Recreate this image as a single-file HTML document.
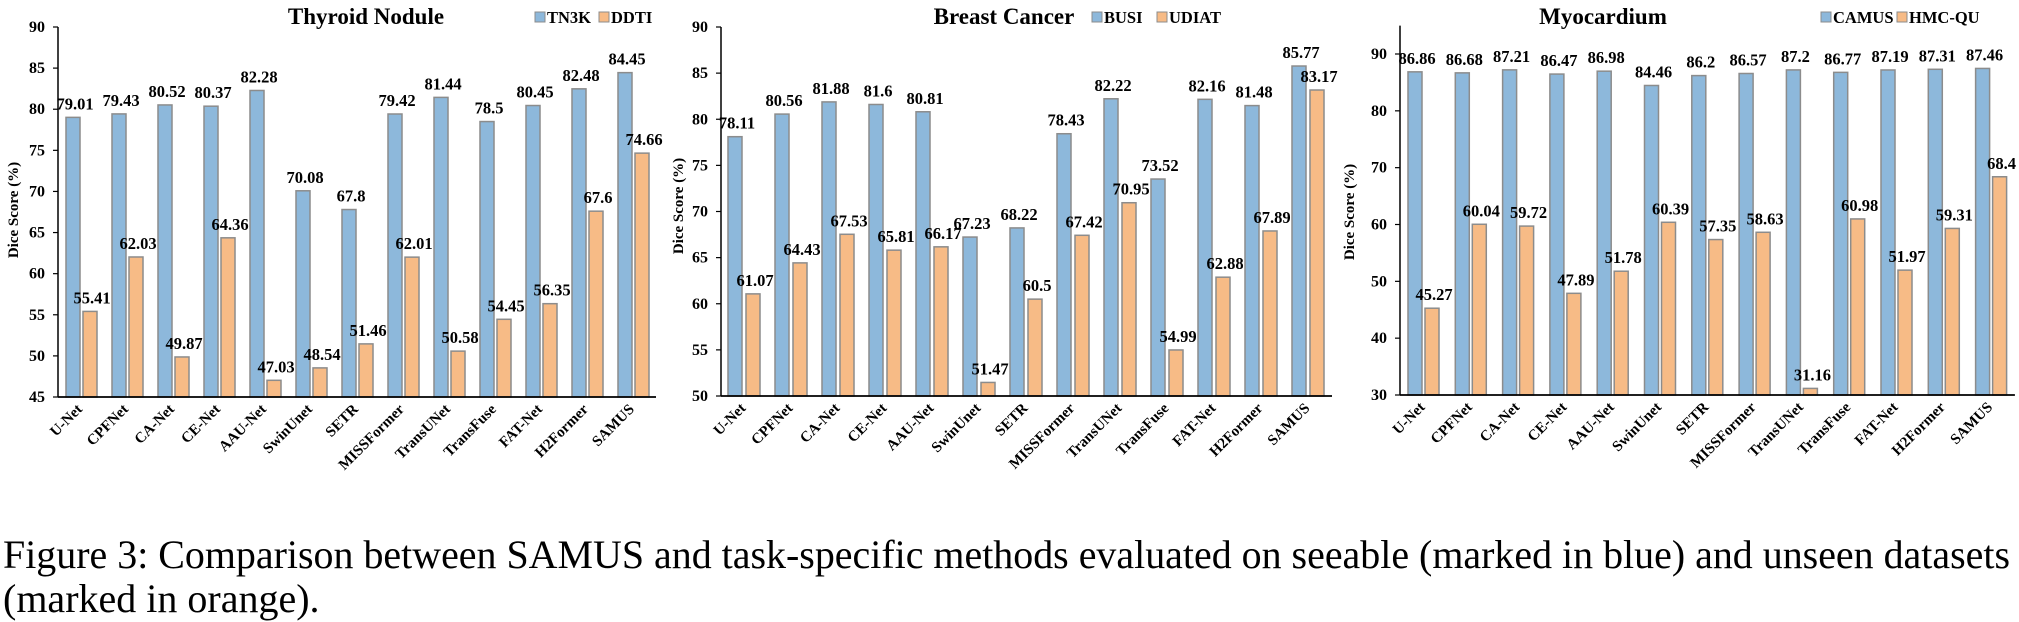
<!DOCTYPE html>
<html><head><meta charset="utf-8"><style>
html,body{margin:0;padding:0;background:#fff;}
svg{display:block;}
text{font-family:"Liberation Serif","Times New Roman",serif;}
</style></head><body>
<svg id="fig" width="2019" height="622" viewBox="0 0 2019 622" xmlns="http://www.w3.org/2000/svg">
<text x="3" y="568" font-size="40" textLength="2007" lengthAdjust="spacingAndGlyphs">Figure 3: Comparison between SAMUS and task-specific methods evaluated on seeable (marked in blue) and unseen datasets</text>
<text x="3" y="612" font-size="40">(marked in orange).</text>
</svg>
<script>
const categories = ["U-Net","CPFNet","CA-Net","CE-Net","AAU-Net","SwinUnet","SETR","MISSFormer","TransUNet","TransFuse","FAT-Net","H2Former","SAMUS"];
const thyroidSeen = [79.01,79.43,80.52,80.37,82.28,70.08,67.8,79.42,81.44,78.5,80.45,82.48,84.45];
const thyroidUnseen = [55.41,62.03,49.87,64.36,47.03,48.54,51.46,62.01,50.58,54.45,56.35,67.6,74.66];
const breastSeen = [78.11,80.56,81.88,81.6,80.81,67.23,68.22,78.43,82.22,73.52,82.16,81.48,85.77];
const breastUnseen = [61.07,64.43,67.53,65.81,66.17,51.47,60.5,67.42,70.95,54.99,62.88,67.89,83.17];
const myoSeen = [86.86,86.68,87.21,86.47,86.98,84.46,86.2,86.57,87.2,86.77,87.19,87.31,87.46];
const myoUnseen = [45.27,60.04,59.72,47.89,51.78,60.39,57.35,58.63,31.16,60.98,51.97,59.31,68.4];
const thyroidTicks = [45,50,55,60,65,70,75,80,85,90];
const breastTicks = [50,55,60,65,70,75,80,85,90];
const myoTicks = [30,40,50,60,70,80,90];
const legendThyroid = ["TN3K","DDTI"];
const legendBreast = ["BUSI","UDIAT"];
const legendMyo = ["CAMUS","HMC-QU"];

const NS = "http://www.w3.org/2000/svg";
const svg = document.getElementById("fig");
function mk(tag, attrs, parent){
  const e = document.createElementNS(NS, tag);
  for (const k in attrs) e.setAttribute(k, attrs[k]);
  (parent||svg).appendChild(e);
  return e;
}
const BLUE="#8db8db", ORANGE="#f7bb86", EDGE="#8c8c8c";

function drawChart(cfg){
  const g = mk("g", {});
  
  
  const y = v => cfg.yBot - (v - cfg.min) * (cfg.yBot - cfg.yTopPx) / (cfg.topVal - cfg.min);
  const axisTop = y(cfg.max);
  const xEnd = cfg.x0 + cfg.step * categories.length;
  const t = mk("text", {x: cfg.titleX, y: 24, "font-size": 23, "font-weight": "bold", "text-anchor": "middle"}, g);
  t.textContent = cfg.title;
  
  
  cfg.legend.forEach((name, i) => {
    const lx = cfg.legendX[i];
    const sq = mk("rect", {x: lx, y: 12, width: 10, height: 10, fill: i ? ORANGE : BLUE, stroke: EDGE, "stroke-width": 1}, g);
    
    
    const lt = mk("text", {x: lx + 12, y: 23, "font-size": 16.5, "font-weight": "bold"}, g);
    lt.textContent = name;
    
    
  });
  const yt = mk("text", {x: 0, y: 0, "font-size": 15, "font-weight": "bold", "text-anchor": "middle", transform: `translate(${cfg.yTitleX},${cfg.yTitleY}) rotate(-90)`}, g);
  yt.textContent = "Dice Score (%)";
  
  
  cfg.ticks.forEach(v => {
    const py = y(v);
    const tk = mk("line", {x1: cfg.x0 - 5, x2: cfg.x0, y1: py, y2: py, stroke: "#000", "stroke-width": 1.2}, g);
    
    
    const tl = mk("text", {x: cfg.x0 - 13, y: py + 5, "font-size": 16, "font-weight": "bold", "text-anchor": "end"}, g);
    tl.textContent = v;
    
    
  });
  categories.forEach((c, i) => {
    const gx = cfg.x0 + i * cfg.step;
    [[cfg.seen, BLUE, cfg.offB], [cfg.unseen, ORANGE, cfg.offO]].forEach(([arr, col, off], s) => {
      const v = arr[i];
      const top = y(v);
      const b = mk("rect", {x: gx + off, y: top, width: 14, height: Math.max(0, cfg.yBot - top), fill: col, stroke: EDGE, "stroke-width": 1.5}, g);
      
      
      const vl = mk("text", {x: gx + off + 9, y: top - 8, "font-size": 16.5, "font-weight": "bold", "text-anchor": "middle"}, g);
      vl.textContent = v;
      
      
    });
    const xl = mk("text", {x: 0, y: 0, "font-size": 15, "font-weight": "bold", "text-anchor": "end", transform: `translate(${gx + cfg.step/2 + 2},${cfg.yBot + 13}) rotate(-45)`}, g);
    xl.textContent = c;
    
    
  });
  const ya = mk("line", {x1: cfg.x0, x2: cfg.x0, y1: axisTop, y2: cfg.yBot, stroke: "#000", "stroke-width": 1.5}, g);
  
  
  const xa = mk("line", {x1: cfg.x0, x2: xEnd, y1: cfg.yBot, y2: cfg.yBot, stroke: "#000", "stroke-width": 1.8}, g);
  
  
}

drawChart({key: "thyroid", title: "Thyroid Nodule", titleX: 366, legend: legendThyroid, legendX: [535, 599],
  seen: thyroidSeen, unseen: thyroidUnseen, ticks: thyroidTicks, min: 45, topVal: 90, max: 90,
  yTopPx: 27, yBot: 397, x0: 58, step: 46, offB: 8, offO: 25, yTitleX: 18, yTitleY: 210});
drawChart({key: "breast", title: "Breast Cancer", titleX: 1004, legend: legendBreast, legendX: [1092, 1157],
  seen: breastSeen, unseen: breastUnseen, ticks: breastTicks, min: 50, topVal: 90, max: 90,
  yTopPx: 27, yBot: 396, x0: 721, step: 47, offB: 7, offO: 25, yTitleX: 683, yTitleY: 206});
drawChart({key: "myocardium", title: "Myocardium", titleX: 1603, legend: legendMyo, legendX: [1821, 1897],
  seen: myoSeen, unseen: myoUnseen, ticks: myoTicks, min: 30, topVal: 90, max: 95,
  yTopPx: 54, yBot: 395, x0: 1400, step: 47.3, offB: 8, offO: 25, yTitleX: 1354, yTitleY: 212});
</script>
</body></html>
